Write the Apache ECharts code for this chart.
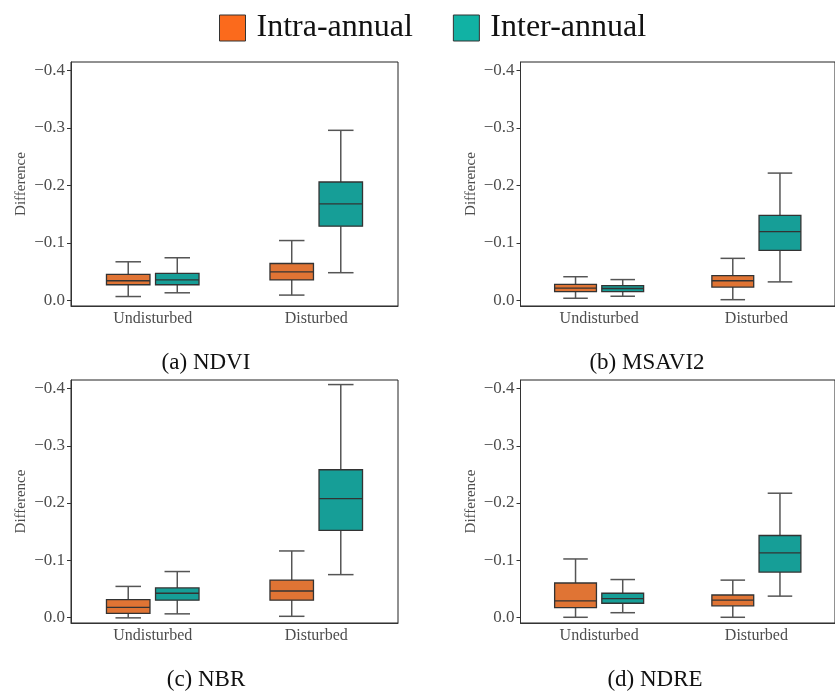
<!DOCTYPE html>
<html>
<head>
<meta charset="utf-8">
<script src="https://cdn.jsdelivr.net/npm/echarts@6/dist/echarts.min.js"></script>
<style>
  html, body { margin: 0; padding: 0; background: #fff; }
  #chart { width: 835px; height: 691px; }
</style>
</head>
<body>
<div id="chart"></div>
<script>
const categories = ['Undisturbed', 'Disturbed'];
const seriesNames = ['Intra-annual', 'Inter-annual'];
const panelLabels = ['(a) NDVI', '(b) MSAVI2', '(c) NBR', '(d) NDRE'];
const yTicks = [-0.4, -0.3, -0.2, -0.1, 0];

// [min, Q1, median, Q3, max] for Undisturbed, Disturbed
const ndviIntra = [[-0.067, -0.045, -0.034, -0.027, -0.0065], [-0.104, -0.064, -0.0495, -0.0355, -0.009]];
const ndviInter = [[-0.074, -0.047, -0.0355, -0.027, -0.013], [-0.296, -0.206, -0.168, -0.129, -0.048]];
const msaviIntra = [[-0.041, -0.0275, -0.021, -0.015, -0.0035], [-0.073, -0.043, -0.034, -0.023, -0.001]];
const msaviInter = [[-0.036, -0.0255, -0.0205, -0.015, -0.007], [-0.2215, -0.148, -0.1195, -0.087, -0.032]];
const nbrIntra = [[-0.054, -0.031, -0.0175, -0.007, 0.001], [-0.116, -0.065, -0.046, -0.030, -0.0017]];
const nbrInter = [[-0.080, -0.0513, -0.042, -0.030, -0.006], [-0.407, -0.258, -0.2076, -0.152, -0.0746]];
const ndreIntra = [[-0.102, -0.060, -0.0286, -0.017, 0.0], [-0.065, -0.039, -0.030, -0.020, 0.0]];
const ndreInter = [[-0.066, -0.042, -0.0327, -0.0245, -0.008], [-0.217, -0.143, -0.1125, -0.079, -0.037]];

const panels = [
  [ndviIntra, ndviInter],
  [msaviIntra, msaviInter],
  [nbrIntra, nbrInter],
  [ndreIntra, ndreInter]
];

const FONT = 'Liberation Serif';
const boxColors = ['#E07434', '#169E97'];
const legendColors = ['#FB6A1C', '#11B2A4'];
const gridPos = [
  { left: 71, top: 62, width: 327, height: 244 },
  { left: 520.5, top: 62, width: 326, height: 244 },
  { left: 71, top: 380, width: 327, height: 243 },
  { left: 520.5, top: 380, width: 326, height: 243 }
];
const captionPos = [[206, 363], [647, 363], [206, 680], [655, 680]];

const chart = echarts.init(document.getElementById('chart'));

// draws one box with whiskers, shifted inside the category band
function makeBox(shift) {
  return function (params, api) {
    const cat = api.value(0);
    const band = api.size([1, 0])[0];
    const cx = api.coord([cat, 0])[0] + shift * band;
    const yLo = api.coord([cat, api.value(1)])[1];
    const yQ1 = api.coord([cat, api.value(2)])[1];
    const yMed = api.coord([cat, api.value(3)])[1];
    const yQ3 = api.coord([cat, api.value(4)])[1];
    const yHi = api.coord([cat, api.value(5)])[1];
    const half = band * 0.133;
    const capHalf = band * 0.078;
    const wStyle = { stroke: '#555', lineWidth: 1.5 };
    return {
      type: 'group',
      children: [
        { type: 'line', shape: { x1: cx, y1: yLo, x2: cx, y2: yQ1 }, style: wStyle },
        { type: 'line', shape: { x1: cx, y1: yQ3, x2: cx, y2: yHi }, style: wStyle },
        { type: 'line', shape: { x1: cx - capHalf, y1: yLo, x2: cx + capHalf, y2: yLo }, style: wStyle },
        { type: 'line', shape: { x1: cx - capHalf, y1: yHi, x2: cx + capHalf, y2: yHi }, style: wStyle },
        {
          type: 'rect',
          shape: { x: cx - half, y: Math.min(yQ1, yQ3), width: half * 2, height: Math.abs(yQ3 - yQ1) },
          style: { fill: api.visual('color'), stroke: '#333', lineWidth: 1.3 }
        },
        { type: 'line', shape: { x1: cx - half, y1: yMed, x2: cx + half, y2: yMed }, style: { stroke: '#333', lineWidth: 1.3 } }
      ]
    };
  };
}

const grids = [], xAxes = [], yAxes = [], series = [], graphics = [];
panels.forEach(function (panel, p) {
  grids.push(Object.assign({
    show: true, borderColor: '#222', borderWidth: 1, containLabel: false
  }, gridPos[p]));
  xAxes.push({
    type: 'category', gridIndex: p, data: categories,
    axisLine: { onZero: false, lineStyle: { color: '#333', width: 1 } },
    axisTick: { alignWithLabel: true, length: 4, lineStyle: { color: '#333' } },
    axisLabel: { color: '#4d4d4d', fontFamily: FONT, fontSize: 16, margin: 5 },
    splitLine: { show: false }
  });
  yAxes.push({
    type: 'value', gridIndex: p, inverse: true, min: -0.415, max: 0.01,
    name: 'Difference', nameLocation: 'middle', nameGap: 42,
    nameTextStyle: { fontFamily: FONT, fontSize: 15, color: '#4d4d4d' },
    axisLine: { show: true, lineStyle: { color: '#333', width: 1 } },
    axisTick: { show: true, length: 4, customValues: yTicks, lineStyle: { color: '#333' } },
    axisLabel: {
      customValues: yTicks, color: '#4d4d4d', fontFamily: FONT, fontSize: 17, margin: 6,
      formatter: function (v) {
        return Math.abs(v) < 1e-9 ? '0.0' : '\u2212' + Math.abs(v).toFixed(1);
      }
    },
    splitLine: { show: false }
  });
  panel.forEach(function (rows, s) {
    series.push({
      type: 'custom', name: seriesNames[s], xAxisIndex: p, yAxisIndex: p,
      itemStyle: { color: boxColors[s] },
      encode: { x: 0, y: [1, 2, 3, 4, 5] },
      renderItem: makeBox(s === 0 ? -0.15 : 0.15),
      data: rows.map(function (r, i) { return [i].concat(r); })
    });
  });
  graphics.push({
    type: 'text', x: captionPos[p][0], y: captionPos[p][1],
    style: { text: panelLabels[p], font: '23px "' + FONT + '"', fill: '#111', align: 'center', verticalAlign: 'middle' }
  });
});

chart.setOption({
  animation: false,
  backgroundColor: '#fff',
  legend: {
    left: 219, top: 12, padding: 0,
    itemWidth: 26, itemHeight: 26, itemGap: 40,
    icon: 'rect',
    textStyle: { fontFamily: FONT, fontSize: 32, color: '#111', padding: [0, 0, 0, 6] },
    data: seriesNames.map(function (n, i) {
      return { name: n, itemStyle: { color: legendColors[i], borderColor: '#333', borderWidth: 1 } };
    })
  },
  grid: grids,
  xAxis: xAxes,
  yAxis: yAxes,
  series: series,
  graphic: graphics
});
</script>
</body>
</html>
